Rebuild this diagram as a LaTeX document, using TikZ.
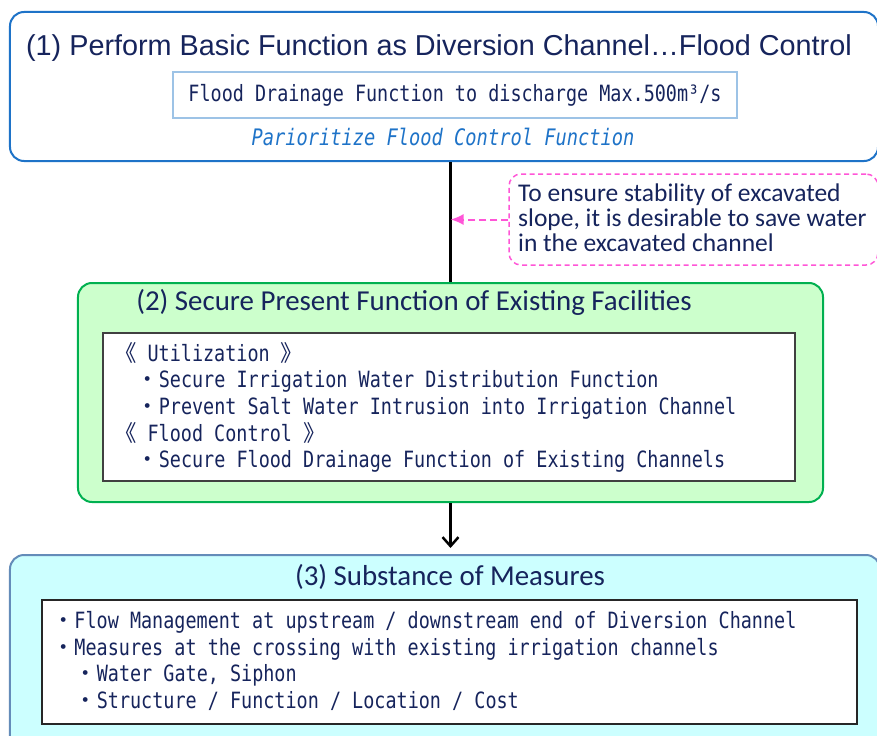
\documentclass[tikz,border=0pt]{standalone}
\usepackage{fontspec}
\setmainfont{Liberation Sans}
\newfontfamily\calibri{Carlito}
\newfontfamily\gothic[FakeStretch=0.823]{DejaVu Sans Mono}
\newfontfamily\cjkfont{Noto Sans CJK JP}
\usetikzlibrary{arrows.meta,positioning}
\definecolor{inknavy}{RGB}{22,36,92}
\definecolor{planblue}{RGB}{30,115,200}
\definecolor{capblue}{RGB}{157,195,230}
\definecolor{notepink}{RGB}{255,85,215}
\definecolor{keepgreen}{RGB}{0,176,80}
\definecolor{keepfill}{RGB}{204,255,204}
\definecolor{measureblue}{RGB}{100,140,185}
\definecolor{measurefill}{RGB}{204,255,255}
% full-width glyph in a two-cell slot
\newcommand{\wide}[1]{\makebox[22.3bp][c]{\cjkfont #1}}
\newcommand{\cellindent}{\hspace*{22.3bp}}

\begin{document}
\begin{tikzpicture}[x=1bp, y=-1bp, >=Latex,
  frame/.style={rectangle, rounded corners=14bp, line width=2bp, inner sep=0pt},
  listbox/.style={rectangle, fill=white, line width=1.5bp, inner sep=0pt},
  heading/.style={font=\calibri\fontsize{29}{32}\selectfont, text=inknavy, inner sep=0pt},
  listtext/.style={font=\gothic\fontsize{22.5}{26.75}\selectfont, text=inknavy, align=left, inner sep=0pt}]

\clip (0,0) rectangle (877,736);
\fill[white] (0,0) rectangle (877,736);

% 1. Basic function box
\node[frame, draw=planblue, fill=white, minimum width=868bp, minimum height=149bp] (plan) at (444,86.5) {};
\node[font=\fontsize{28.9}{32}\selectfont, text=inknavy, inner sep=0pt] (plantitle) at (439,48)
  {(1) Perform Basic Function as Diversion Channel…Flood Control};
\node[listbox, draw=capblue, minimum width=564bp, minimum height=46bp, font=\gothic\fontsize{22.5}{24}\selectfont, text=inknavy] (capacity) at (455,95)
  {Flood Drainage Function to discharge Max.500m³/s};
\node[font=\gothic\itshape\fontsize{22.8}{24}\selectfont, text=planblue, inner sep=0pt] (priority) at (443,137)
  {Parioritize Flood Control Function};

% 2. Existing facilities box
\node[frame, draw=keepgreen, fill=keepfill, minimum width=745bp, minimum height=219bp] (keep) at (450.5,392.5) {};
\node[heading] (keeptitle) at (414,302) {(2) Secure Present Function of Existing Facilities};
\node[listbox, draw=black!75, minimum width=692bp, minimum height=148bp] (keeplist) at (449,407) {};
\node[listtext, anchor=west] (keeptext) at (114,407.5)
  {\wide{《} Utilization \wide{》}\\
   \cellindent\wide{・}Secure Irrigation Water Distribution Function\\
   \cellindent\wide{・}Prevent Salt Water Intrusion into Irrigation Channel\\
   \wide{《} Flood Control \wide{》}\\
   \cellindent\wide{・}Secure Flood Drainage Function of Existing Channels};

% 3. Measures box
\node[frame, draw=measureblue, fill=measurefill, minimum width=870bp, minimum height=205bp] (measure) at (445,657.5) {};
\node[heading] (measuretitle) at (450,577) {(3) Substance of Measures};
\node[listbox, draw=black!85, minimum width=815bp, minimum height=124bp] (measurelist) at (449.5,662) {};
\node[listtext, anchor=west] (measuretext) at (52,661)
  {\wide{・}Flow Management at upstream / downstream end of Diversion Channel\\
   \wide{・}Measures at the crossing with existing irrigation channels\\
   \cellindent\wide{・}Water Gate, Siphon\\
   \cellindent\wide{・}Structure / Function / Location / Cost};

% 4. Side note on the excavated slope
\node[rectangle, draw=notepink, dashed, dash pattern=on 5bp off 3.5bp, line width=1.5bp, rounded corners=12bp,
      minimum width=369bp, minimum height=91bp] (slope) at (693.5,219.5) {};
\node[font=\calibri\fontsize{25.6}{25}\selectfont, text=inknavy, align=left, inner sep=0pt, anchor=west] (slopetext) at (518,218)
  {To ensure stability of excavated\\slope, it is desirable to save water\\in the excavated channel};

% 5. Connectors
\coordinate (stem) at (keep.north |- slope.west);
\draw[line width=3bp] (keep.north |- plan.south) -- (keep.north);
\draw[-{Latex[length=13bp,width=11bp]}, notepink, line width=2bp, dash pattern=on 7bp off 4bp]
  (slope.west) -- (stem);
\draw[-{Straight Barb[length=9bp,width=16bp]}, line width=2.5bp, shorten >=6bp] (keep.south) -- (keep.south |- measure.north);

\end{tikzpicture}
\end{document}
